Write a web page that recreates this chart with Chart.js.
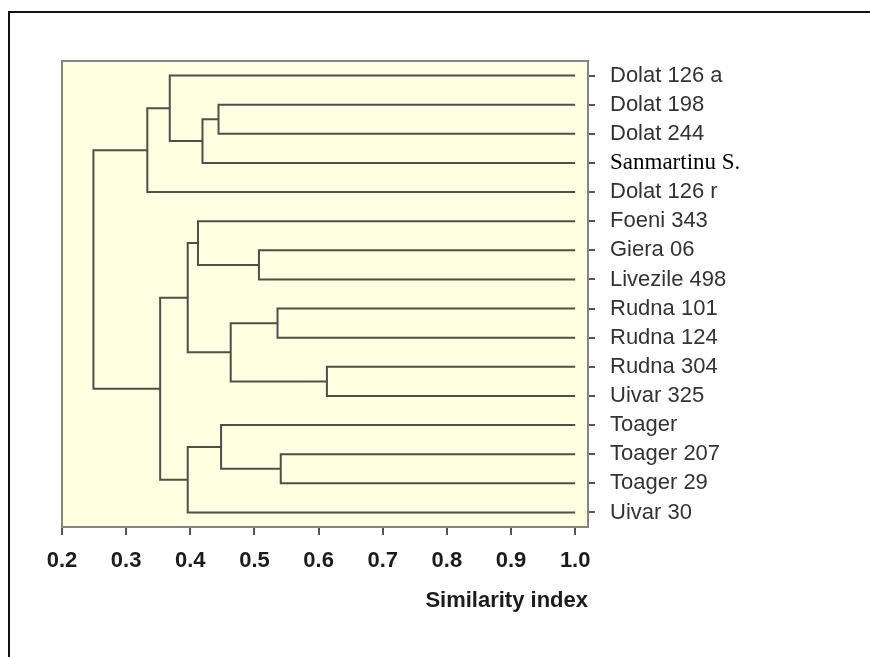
<!DOCTYPE html>
<html>
<head>
<meta charset="utf-8">
<script src="https://cdn.jsdelivr.net/npm/chart.js@4.4.1/dist/chart.umd.min.js"></script>
<style>
html, body { margin: 0; padding: 0; background: #fff; overflow: hidden; }
#wrap { position: relative; width: 870px; height: 657px; }
#frame { position: absolute; left: 8px; top: 11px; width: 900px; height: 700px; border-left: 2px solid #111; border-top: 2px solid #111; pointer-events: none; }
canvas { position: absolute; left: 0; top: 0; }
</style>
</head>
<body>
<div id="wrap">
  <canvas id="dendroChart" width="870" height="657"></canvas>
  <div id="frame"></div>
</div>
<script>
// leaves, top to bottom
const leaves = ['Dolat 126 a', 'Dolat 198', 'Dolat 244', 'Sanmartinu S.', 'Dolat 126 r',
  'Foeni 343', 'Giera 06', 'Livezile 498', 'Rudna 101', 'Rudna 124',
  'Rudna 304', 'Uivar 325', 'Toager', 'Toager 207', 'Toager 29', 'Uivar 30']

// merges: children ids (leaves 0..15, clusters 16+) and similarity level
const mergeLeft   = [1, 16, 0, 18, 6, 5, 8, 10, 22, 21, 13, 12, 27, 25, 19]
const mergeRight  = [2, 3, 17, 4, 7, 20, 9, 11, 23, 24, 14, 26, 15, 28, 29]
const mergeHeight = [0.444, 0.419, 0.368, 0.333, 0.507, 0.412, 0.536, 0.613, 0.463, 0.396, 0.541, 0.448, 0.396, 0.353, 0.249]

const xTicks = [0.2, 0.3, 0.4, 0.5, 0.6, 0.7, 0.8, 0.9, 1.0]

// build the U shaped links
const nodeX = [], nodeY = []
leaves.forEach((l, i) => { nodeX[i] = 1.0; nodeY[i] = i })
const datasets = []
mergeHeight.forEach((h, k) => {
    const a = mergeLeft[k], b = mergeRight[k]
    const id = leaves.length + k
    nodeX[id] = h
    nodeY[id] = (nodeY[a] + nodeY[b]) / 2
    datasets.push({
        data: [
            {x: nodeX[a], y: nodeY[a]},
            {x: h, y: nodeY[a]},
            {x: h, y: nodeY[b]},
            {x: nodeX[b], y: nodeY[b]}
        ],
        showLine: true,
        borderColor: '#4f4f47',
        borderWidth: 2,
        pointRadius: 0,
        tension: 0,
        clip: false
    })
})

const plotArea = {
    id: 'plotArea',
    beforeDatasetsDraw(chart) {
        const {ctx, chartArea: a} = chart
        ctx.save()
        ctx.fillStyle = '#ffffe1'
        ctx.fillRect(a.left, a.top, a.right - a.left, a.bottom - a.top)
        ctx.strokeStyle = '#858585'
        ctx.lineWidth = 2
        ctx.strokeRect(a.left, a.top, a.right - a.left, a.bottom - a.top)
        ctx.restore()
    }
}

const ctx = document.getElementById('dendroChart').getContext('2d')
new Chart(ctx, {
    type: 'scatter',
    data: { datasets: datasets },
    plugins: [plotArea],
    options: {
        responsive: false,
        animation: false,
        layout: { padding: { left: 62, top: 61, right: 0, bottom: 43 } },
        plugins: {
            legend: { display: false },
            tooltip: { enabled: false }
        },
        scales: {
            x: {
                type: 'linear',
                position: 'bottom',
                min: 0.2,
                max: 1.02,
                afterBuildTicks: s => { s.ticks = xTicks.map(v => ({value: v})) },
                afterFit: s => { s.height = 87 },
                ticks: {
                    callback: v => v.toFixed(1),
                    font: { family: 'Liberation Sans', size: 22, weight: 'bold' },
                    color: '#1c1c1c',
                    padding: 13,
                    maxRotation: 0,
                    autoSkip: false
                },
                grid: { drawOnChartArea: false, tickLength: 8, color: '#555', lineWidth: 2 },
                border: { display: false },
                title: {
                    display: true,
                    text: 'Similarity index',
                    align: 'end',
                    color: '#1c1c1c',
                    font: { family: 'Liberation Sans', size: 22, weight: 'bold' },
                    padding: 0
                }
            },
            y: {
                type: 'linear',
                position: 'right',
                reverse: true,
                min: -0.5,
                max: 15.5,
                afterBuildTicks: s => { s.ticks = leaves.map((l, i) => ({value: i})) },
                afterFit: s => { s.width = 282 },
                ticks: {
                    callback: v => leaves[v],
                    font: c => c.index === 3
                        ? { family: 'Liberation Serif', size: 23 }
                        : { family: 'Liberation Sans', size: 22 },
                    color: c => c.index === 3 ? '#000' : '#333',
                    padding: 15,
                    autoSkip: false
                },
                grid: { drawOnChartArea: false, tickLength: 7, color: '#555', lineWidth: 2 },
                border: { display: false }
            }
        }
    }
})
</script>
</body>
</html>
